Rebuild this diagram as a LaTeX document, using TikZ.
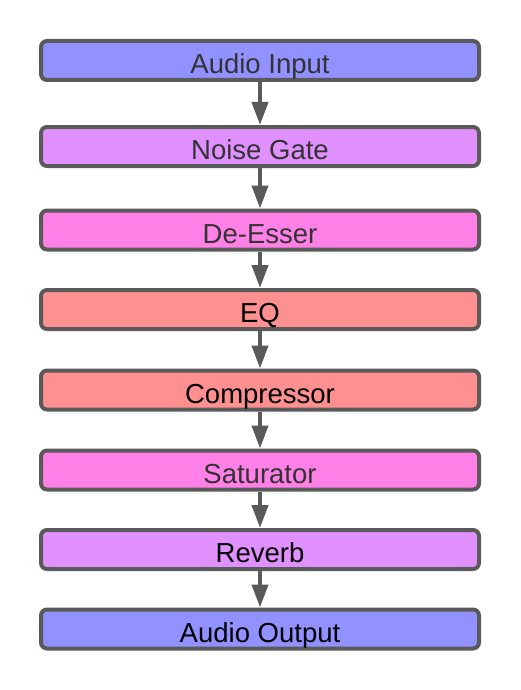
\documentclass[tikz,border=0pt]{standalone}
\usepackage{fontspec}
\setmainfont{Liberation Sans}
\usetikzlibrary{arrows.meta}
\definecolor{cin}{RGB}{145,145,255}
\definecolor{cgate}{RGB}{224,144,255}
\definecolor{cpink}{RGB}{255,128,230}
\definecolor{cred}{RGB}{255,144,144}
\definecolor{cborder}{RGB}{90,90,90}
\definecolor{cdark}{RGB}{51,51,51}
\tikzset{
  stage/.style={draw=cborder, line width=4pt, rounded corners=6pt,
    minimum width=438pt, minimum height=39pt, inner sep=0pt,
    text height=26pt, text depth=0pt,
    font=\fontsize{27.5}{30}\selectfont},
  flow/.style={draw=cborder, line width=4pt, -{Triangle[width=16pt,length=23pt]}}
}
\begin{document}
\begin{tikzpicture}[x=1pt,y=-1pt]
\useasboundingbox (0,0) rectangle (520,690);
\node[stage, fill=cin, text=cdark] (in) at (260,60.5) {Audio Input};
\node[stage, fill=cgate, text=cdark] (gate) at (260,146.5) {Noise Gate};
\node[stage, fill=cpink, text=cdark] (ess) at (260,230) {De-Esser};
\node[stage, fill=cred, text=black] (eq) at (260,309.5) {EQ};
\node[stage, fill=cred, text=black] (comp) at (260,390) {Compressor};
\node[stage, fill=cpink, text=cdark] (sat) at (260,470) {Saturator};
\node[stage, fill=cgate, text=black] (rev) at (260,549.5) {Reverb};
\node[stage, fill=cin, text=black] (out) at (260,629) {Audio Output};
\draw[flow] (in) -- (gate);
\draw[flow] (gate) -- (ess);
\draw[flow] (ess) -- (eq);
\draw[flow] (eq) -- (comp);
\draw[flow] (comp) -- (sat);
\draw[flow] (sat) -- (rev);
\draw[flow] (rev) -- (out);
\end{tikzpicture}
\end{document}
